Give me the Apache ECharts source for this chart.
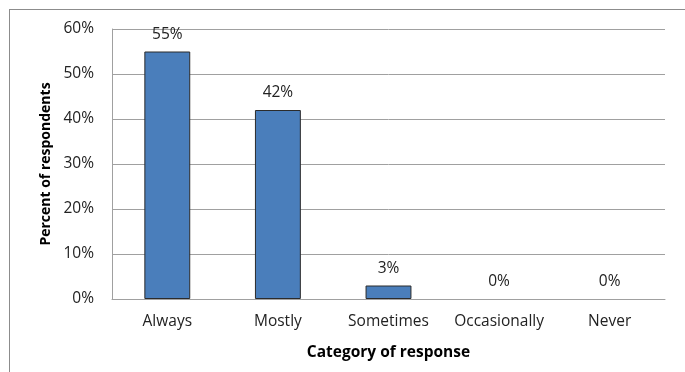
<!DOCTYPE html>
<html>
<head>
<meta charset="utf-8">
<script src="https://cdn.jsdelivr.net/npm/echarts@6/dist/echarts.min.js"></script>
<style>
  html, body { margin: 0; padding: 0; background: #fff; }
  #frame { position: absolute; left: 9px; top: 9px; width: 690px; height: 380px; border: 1px solid #8c8c8c; box-sizing: border-box; }
  #chart { position: absolute; left: 0; top: 0; width: 685px; height: 372px; }
</style>
</head>
<body>
<div id="frame"></div>
<div id="chart"></div>
<script>
// Survey responses by category
const categories = ['Always', 'Mostly', 'Sometimes', 'Occasionally', 'Never'];
const percentValues = [55, 42, 3, 0, 0];
const yTicks = [0, 10, 20, 30, 40, 50, 60];

const font = '"Open Sans", "Liberation Sans", sans-serif';
const chart = echarts.init(document.getElementById('chart'), null, { renderer: 'canvas' });

// zero-height bars get no outline so only their label is drawn
const barData = percentValues.map(v => ({
  value: v,
  itemStyle: v === 0 ? { borderWidth: 0 } : {}
}));

chart.setOption({
  animation: false,
  grid: { left: 112, right: 20, top: 29, bottom: 73, containLabel: false },
  xAxis: {
    type: 'category',
    data: categories,
    name: 'Category of response',
    nameLocation: 'middle',
    nameGap: 46,
    nameTextStyle: { fontFamily: font, fontWeight: 'bold', fontSize: 15.5, color: '#000' },
    axisLine: { lineStyle: { color: '#a0a0a0', width: 1 } },
    axisTick: { show: false },
    axisLabel: { fontFamily: font, fontSize: 15.5, color: '#222', margin: 15, interval: 0 }
  },
  yAxis: {
    type: 'value',
    min: yTicks[0],
    max: yTicks[yTicks.length - 1],
    interval: 10,
    name: 'Percent of respondents',
    nameLocation: 'middle',
    nameGap: 58,
    nameTextStyle: { fontFamily: font, fontWeight: 'bold', fontSize: 14, color: '#000' },
    axisLine: { show: true, lineStyle: { color: '#a0a0a0', width: 1 } },
    axisTick: { show: false },
    axisLabel: { fontFamily: font, fontSize: 15.5, color: '#222', margin: 18, formatter: v => v + '%' },
    splitLine: { lineStyle: { color: '#a0a0a0', width: 1 } }
  },
  series: [{
    type: 'bar',
    data: barData,
    barWidth: '41.5%',
    itemStyle: { color: '#4a7ebb', borderColor: '#2b2b2b', borderWidth: 1 },
    label: {
      show: true,
      position: 'top',
      distance: 9,
      fontFamily: font,
      fontSize: 15.5,
      color: '#222',
      formatter: p => p.value + '%'
    }
  }]
});
</script>
</body>
</html>
